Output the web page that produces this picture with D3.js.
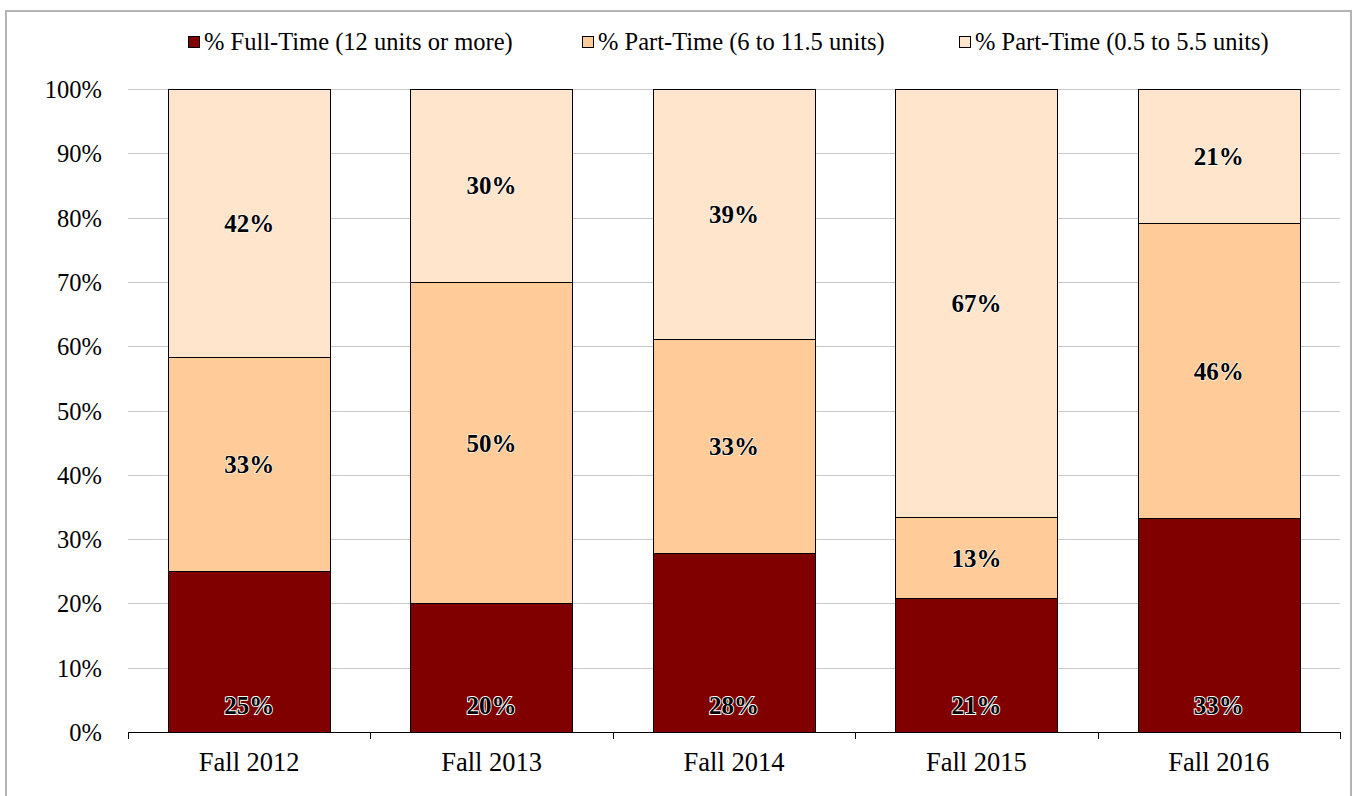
<!DOCTYPE html>
<html>
<head>
<meta charset="utf-8">
<script src="https://cdn.jsdelivr.net/npm/d3@7"></script>
<style>
  body { margin: 0; background: #fff; }
  svg text { font-family: "Liberation Serif", "Times New Roman", serif; }
</style>
</head>
<body>
<div id="chart"></div>
<script>
// data
var terms = ["Fall 2012", "Fall 2013", "Fall 2014", "Fall 2015", "Fall 2016"];
var fullTime = [25.0, 20.0, 27.8, 20.8, 33.3];
var partTimeMid = [33.3, 50.0, 33.3, 12.6, 45.8];
var partTimeLow = [41.7, 30.0, 38.9, 66.6, 20.9];
var seriesNames = ["% Full-Time (12 units or more)", "% Part-Time (6 to 11.5 units)", "% Part-Time (0.5 to 5.5 units)"];
var seriesColors = ["#800000", "#ffcc99", "#ffe5cc"];
var yTicks = [0, 10, 20, 30, 40, 50, 60, 70, 80, 90, 100];

var w = 1355, h = 796;
var plotLeft = 128, plotRight = 1340, plotTop = 89, plotBottom = 732;

var svg = d3.select("#chart").append("svg").attr("width", w).attr("height", h);

// outer chart border
svg.append("path").attr("d", "M6,810 V11 H1351 V810")
  .attr("fill", "none").attr("stroke", "#b3b3b3").attr("stroke-width", 2);

var x = d3.scaleBand().domain(terms).range([plotLeft, plotRight]).paddingInner(0.33).paddingOuter(0.165);
var xb = d3.scaleBand().domain(terms).range([plotLeft, plotRight]);
var y = d3.scaleLinear().domain([0, 100]).range([plotBottom, plotTop]);

// gridlines
svg.append("g").selectAll("line").data(yTicks.slice(1)).enter().append("line")
  .attr("x1", plotLeft).attr("x2", plotRight)
  .attr("y1", d => Math.round(y(d)) + 0.5).attr("y2", d => Math.round(y(d)) + 0.5)
  .attr("stroke", "#c8c8c8").attr("stroke-width", 1);

// y tick labels
svg.append("g").selectAll("text").data(yTicks).enter().append("text")
  .attr("x", 102).attr("y", d => y(d) + 9)
  .attr("text-anchor", "end").attr("font-size", 24.5).attr("fill", "#000")
  .text(d => d + "%");

// stack
var rows = terms.map(function (t, i) {
  return { term: t, a: fullTime[i], b: partTimeMid[i], c: partTimeLow[i] };
});
var stack = d3.stack().keys(["a", "b", "c"])(rows);

stack.forEach(function (layer, k) {
  var g = svg.append("g");
  g.selectAll("rect").data(layer).enter().append("rect")
    .attr("x", d => Math.round(x(d.data.term)) + 0.5)
    .attr("y", d => Math.round(y(d[1])) + 0.5)
    .attr("width", Math.round(x.bandwidth()))
    .attr("height", d => Math.round(y(d[0])) - Math.round(y(d[1])))
    .attr("fill", seriesColors[k])
    .attr("stroke", "#000").attr("stroke-width", 1);
});

// value labels
stack.forEach(function (layer, k) {
  var g = svg.append("g");
  var sel = g.selectAll("text").data(layer).enter().append("text")
    .attr("x", d => x(d.data.term) + x.bandwidth() / 2)
    .attr("text-anchor", "middle").attr("font-size", 25).attr("font-weight", "bold")
    .text(d => Math.round(d[1] - d[0]) + "%");
  if (k === 0) {
    sel.attr("y", plotBottom - 18)
      .attr("fill", "#000").attr("stroke", "#fff").attr("stroke-width", 1.8)
      .attr("paint-order", "stroke");
  } else {
    sel.attr("y", d => (y(d[0]) + y(d[1])) / 2 + 9)
      .attr("fill", "#000").attr("stroke", "#fff").attr("stroke-width", 1.2)
      .attr("paint-order", "stroke");
  }
});

// x axis
var xAxis = svg.append("g");
xAxis.append("line").attr("x1", plotLeft).attr("x2", plotRight)
  .attr("y1", plotBottom + 0.5).attr("y2", plotBottom + 0.5).attr("stroke", "#000");
var edges = terms.map(t => xb(t)).concat([plotRight]);
xAxis.selectAll("line.tk").data(edges).enter().append("line").attr("class", "tk")
  .attr("x1", d => Math.round(d) + 0.5).attr("x2", d => Math.round(d) + 0.5)
  .attr("y1", plotBottom).attr("y2", plotBottom + 7).attr("stroke", "#000");
xAxis.selectAll("text").data(terms).enter().append("text")
  .attr("x", d => xb(d) + xb.bandwidth() / 2).attr("y", 771)
  .attr("text-anchor", "middle").attr("font-size", 26.5).attr("fill", "#000")
  .text(d => d);

// legend
var legX = [188, 582, 959];
var leg = svg.append("g").selectAll("g").data(seriesNames).enter().append("g")
  .attr("transform", (d, i) => "translate(" + legX[i] + ",36)");
leg.append("rect").attr("x", 0.5).attr("y", 0.5).attr("width", 11).attr("height", 11)
  .attr("fill", (d, i) => seriesColors[i]).attr("stroke", "#000").attr("stroke-width", 1);
leg.append("text").attr("x", 16).attr("y", 14).attr("font-size", 24.5).attr("fill", "#000")
  .text(d => d);
</script>
</body>
</html>
